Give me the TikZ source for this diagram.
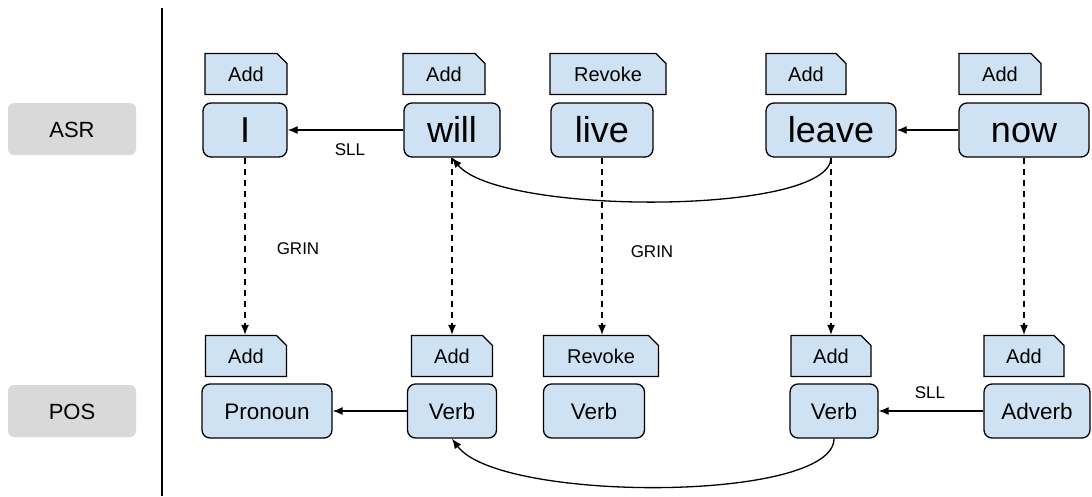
\documentclass[tikz,border=0pt]{standalone}
\usepackage{fontspec}
\setmainfont{Liberation Sans}
\usetikzlibrary{positioning, shapes.misc, arrows.meta}
\definecolor{boxblue}{RGB}{207,226,243}
\definecolor{layergray}{RGB}{217,217,217}
\tikzset{word/.style = {rectangle, rounded corners=8pt, draw=black, line width=1.3pt, fill=boxblue,
                        minimum height=54pt, inner sep=0pt, text height=25.5pt, text depth=0pt,
                        font=\fontsize{36}{42}\selectfont},
         posbox/.style = {word, text height=16pt, font=\fontsize{22.5}{26}\selectfont},
         tag/.style = {chamfered rectangle, chamfered rectangle corners=north east,
                       chamfered rectangle xsep=5pt, chamfered rectangle ysep=5pt,
                       draw=black, line width=1.3pt, fill=boxblue, minimum height=41pt,
                       inner sep=0pt, text height=14.5pt, text depth=0pt,
                       font=\fontsize{20}{24}\selectfont},
         layer/.style = {rectangle, rounded corners=6pt, fill=layergray, minimum width=128pt,
                         minimum height=52pt, text height=16pt, text depth=0pt,
                         font=\fontsize{22}{26}\selectfont},
         edgelabel/.style = {font=\fontsize{17}{20}\selectfont},
         link/.style = {-{Latex[length=10pt,width=8pt]}, line width=1.3pt},
         grin/.style = {link, dash pattern=on 6pt off 5pt}}

\begin{document}
\begin{tikzpicture}[x=1pt, y=-1pt]
            \useasboundingbox (0,0) rectangle (1092,496);

            % layers
            \node [layer] (asr) at (72, 129) {ASR};
            \node [layer] (posl) at (72, 411) {POS};
            \coordinate (sepTop) at (162, 8);
            \coordinate (sepBot) at (162, 496);
            \draw [line width=1.3pt] (sepTop) -- (sepBot);

            % ASR row
            \node [word, minimum width=84pt]  (I)     at ( 245, 130) {I};
            \node [word, minimum width=96pt]  (will)  at ( 452, 130) {will};
            \node [word, minimum width=102pt] (live)  at ( 602, 130) {live};
            \node [word, minimum width=130pt] (leave) at ( 831, 130) {leave};
            \node [word, minimum width=130pt] (now)   at (1024, 130) {now};

            \node [tag, minimum width=82pt]  (tagI)     at ( 246, 74) {Add};
            \node [tag, minimum width=82pt]  (tagWill)  at ( 444, 74) {Add};
            \node [tag, minimum width=116pt] (tagLive)  at ( 608, 74) {Revoke};
            \node [tag, minimum width=80pt]  (tagLeave) at ( 806, 74) {Add};
            \node [tag, minimum width=82pt]  (tagNow)   at (1000, 74) {Add};

            % POS row
            \node [posbox, minimum width=130pt] (pronoun) at ( 267, 411) {Pronoun};
            \node [posbox, minimum width=89pt]  (verbA)   at ( 452, 411) {Verb};
            \node [posbox, minimum width=101pt] (verbB)   at ( 594, 411) {Verb};
            \node [posbox, minimum width=88pt]  (verbC)   at ( 834, 411) {Verb};
            \node [posbox, minimum width=106pt] (adverb)  at (1037, 411) {Adverb};

            \node [tag, minimum width=81pt]  (tagPronoun) at ( 246, 356) {Add};
            \node [tag, minimum width=81pt]  (tagVerbA)   at ( 452, 356) {Add};
            \node [tag, minimum width=115pt] (tagVerbB)   at ( 601, 356) {Revoke};
            \node [tag, minimum width=80pt]  (tagVerbC)   at ( 831, 356) {Add};
            \node [tag, minimum width=80pt]  (tagAdverb)  at (1024, 356) {Add};

            % SLL links
            \draw [link] (will) -- (I);
            \draw [link] (now) -- (leave);
            \draw [link] (leave.south) .. controls +(0,58) and +(47,58) .. (will.south);
            \draw [link] (verbA) -- (pronoun);
            \draw [link] (adverb) -- (verbC);
            \draw [link] (verbC.south) .. controls +(0,64) and +(47,64) .. (verbA.south);

            \node [edgelabel] (sllTop) at (350, 150) {SLL};
            \node [edgelabel] (sllBot) at (930, 393) {SLL};

            % GRIN links
            \draw [grin] (I.south) -- (I.south |- tagPronoun.north);
            \draw [grin] (will.south) -- (will.south |- tagVerbA.north);
            \draw [grin] (live.south) -- (live.south |- tagVerbB.north);
            \draw [grin] (leave.south) -- (leave.south |- tagVerbC.north);
            \draw [grin] (now.south) -- (now.south |- tagAdverb.north);

            \node [edgelabel] (grinA) at (298, 249) {GRIN};
            \node [edgelabel] (grinB) at (652, 252) {GRIN};
        \end{tikzpicture}
\end{document}
